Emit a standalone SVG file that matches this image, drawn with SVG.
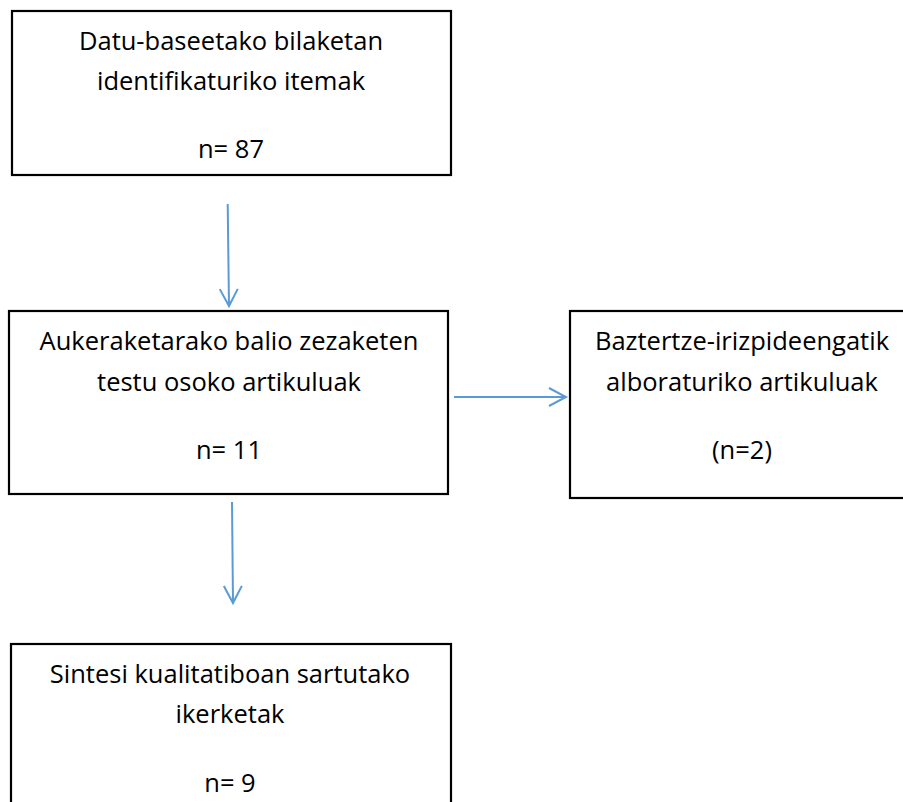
<svg xmlns="http://www.w3.org/2000/svg" width="903" height="802" viewBox="0 0 903 802">
<style>
.box{fill:#fff;stroke:#000;stroke-width:2.2}
.t{font-family:"Open Sans","Liberation Sans",sans-serif;font-size:25.5px;fill:#000;text-anchor:middle}
.c{stroke:#5b9bd5;stroke-width:2;fill:none}
</style>
<defs>
<marker id="ah" markerWidth="24" markerHeight="24" refX="18" refY="10" orient="auto" markerUnits="userSpaceOnUse">
<path d="M1,1 L18,10 L1,19" fill="none" stroke="#5b9bd5" stroke-width="2"/>
</marker>
</defs>
<rect width="903" height="802" fill="#fff"/>
<g id="n1">
<rect class="box" x="12" y="11" width="439" height="164"/>
<text class="t" x="231" y="50">Datu-baseetako bilaketan</text>
<text class="t" x="231" y="90">identifikaturiko itemak</text>
<text class="t" x="231" y="158">n= 87</text>
</g>
<g id="n2">
<rect class="box" x="9" y="311" width="439" height="183"/>
<text class="t" x="229" y="350">Aukeraketarako balio zezaketen</text>
<text class="t" x="229" y="391">testu osoko artikuluak</text>
<text class="t" x="229" y="459">n= 11</text>
</g>
<g id="n3">
<rect class="box" x="570" y="311" width="345" height="187"/>
<text class="t" x="742" y="350">Baztertze-irizpideengatik</text>
<text class="t" x="742" y="391">alboraturiko artikuluak</text>
<text class="t" x="742" y="459">(n=2)</text>
</g>
<g id="n4">
<rect class="box" x="11" y="644" width="440" height="175"/>
<text class="t" x="230" y="683">Sintesi kualitatiboan sartutako</text>
<text class="t" x="230" y="723">ikerketak</text>
<text class="t" x="230" y="792">n= 9</text>
</g>
<g id="connectors">
<line class="c" x1="227.7" y1="204" x2="229" y2="306" marker-end="url(#ah)"/>
<line class="c" x1="454" y1="397" x2="566" y2="397" marker-end="url(#ah)"/>
<line class="c" x1="232" y1="502" x2="233" y2="603" marker-end="url(#ah)"/>
</g>
</svg>
